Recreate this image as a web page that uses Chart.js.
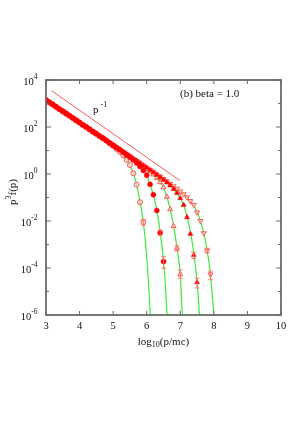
<!DOCTYPE html>
<html>
<head>
<meta charset="utf-8">
<script src="https://cdn.jsdelivr.net/npm/chart.js@4.4.1/dist/chart.umd.min.js"></script>
<style>
  html, body { margin: 0; padding: 0; background: #fff; }
  #wrap { width: 300px; height: 428px; position: relative; }
</style>
</head>
<body>
<div id="wrap"><canvas id="myChart"></canvas></div>
<script>
// x grid: log10(p/mc)
const logP = [3.0, 3.1, 3.2, 3.3, 3.4, 3.5, 3.6, 3.7, 3.8, 3.9,
              4.0, 4.1, 4.2, 4.3, 4.4, 4.5, 4.6, 4.7, 4.8, 4.9,
              5.0, 5.1, 5.2, 5.3, 5.4, 5.5, 5.6, 5.7, 5.8, 5.9,
              6.0, 6.1, 6.2, 6.3, 6.4, 6.5, 6.6, 6.7, 6.8, 6.9,
              7.0, 7.1, 7.2, 7.3, 7.4, 7.5, 7.6, 7.7, 7.8, 7.9];

// log10 of p^3 f(p), shared power-law part (3.0 .. 4.8)
const lowLog = [3.15, 3.05, 2.96, 2.86, 2.76, 2.67, 2.57, 2.48, 2.38, 2.28,
                2.19, 2.09, 2.00, 1.90, 1.80, 1.71, 1.61, 1.52, 1.42];

// tails of the five runs (from 4.9 on)
const openCircLog = lowLog.concat([1.30, 1.19, 1.07, 0.94, 0.79, 0.60, 0.38, 0.03, -0.46, -1.20, -2.05]);
const fillCircLog = lowLog.concat([1.32, 1.22, 1.12, 1.03, 0.93, 0.82, 0.71, 0.60, 0.47, 0.32,
                                   0.15, -0.05, -0.44, -0.88, -1.55, -2.50, -3.72]);
const openUpLog = lowLog.concat([1.32, 1.23, 1.13, 1.04, 0.94, 0.84, 0.74, 0.64, 0.54, 0.45,
                                 0.34, 0.23, 0.11, -0.02, -0.17, -0.35, -0.57, -0.97, -1.50, -2.22,
                                 -3.16, -4.27]);
const fillUpLog = lowLog.concat([1.32, 1.23, 1.13, 1.04, 0.94, 0.84, 0.75, 0.65, 0.56, 0.46,
                                 0.36, 0.27, 0.17, 0.07, -0.03, -0.14, -0.25, -0.36, -0.49, -0.64,
                                 -0.81, -1.03, -1.32, -1.84, -2.55, -3.45, -4.61]);
const openDownLog = lowLog.concat([1.32, 1.23, 1.13, 1.04, 0.94, 0.84, 0.75, 0.65, 0.56, 0.46,
                                   0.36, 0.27, 0.17, 0.08, -0.02, -0.12, -0.21, -0.31, -0.415, -0.52,
                                   -0.62, -0.74, -0.86, -0.99, -1.15, -1.31, -1.63, -2.00, -2.52, -3.26,
                                   -4.27]);

// green fit curves (log10 p, log10 y)
const fitAx = [3.0, 4.0, 4.8, 5.0, 5.2, 5.4, 5.5, 5.6, 5.7, 5.8, 5.9, 6.0, 6.05, 6.1, 6.15];
const fitAy = [3.18, 2.2, 1.43, 1.19, 0.94, 0.60, 0.37, 0.03, -0.46, -1.18, -2.07, -3.51, -4.54, -5.83, -7.4];
const fitBx = [3.0, 4.0, 5.0, 5.5, 5.8, 6.0, 6.1, 6.2, 6.3, 6.4, 6.5, 6.55, 6.6, 6.65];
const fitBy = [3.18, 2.2, 1.23, 0.71, 0.32, -0.06, -0.44, -0.9, -1.52, -2.45, -3.7, -4.6, -5.8, -7.2];
const fitCx = [3.0, 4.0, 5.0, 5.8, 6.0, 6.2, 6.4, 6.5, 6.6, 6.7, 6.8, 6.9, 7.0, 7.05, 7.1];
const fitCy = [3.18, 2.2, 1.23, 0.45, 0.23, -0.02, -0.35, -0.57, -0.97, -1.5, -2.2, -3.12, -4.3, -5.7, -7.4];
const fitDx = [3.0, 4.0, 5.0, 6.0, 6.4, 6.6, 6.8, 6.9, 7.0, 7.1, 7.2, 7.3, 7.4, 7.5, 7.55, 7.6];
const fitDy = [3.18, 2.2, 1.23, 0.27, -0.14, -0.36, -0.64, -0.81, -1.04, -1.33, -1.8, -2.45, -3.35, -4.6, -5.5, -6.7];
const fitEx = [3.0, 4.0, 5.0, 6.0, 6.6, 6.8, 7.0, 7.2, 7.3, 7.4, 7.5, 7.6, 7.7, 7.8, 7.9, 7.95, 8.0, 8.05];
const fitEy = [3.18, 2.2, 1.23, 0.27, -0.31, -0.52, -0.74, -0.99, -1.15, -1.33, -1.62, -2.0, -2.52, -3.25, -4.3, -5.1, -6.0, -7.1];

// p^-1 guide line
const guideX = [3.17, 6.99];
const guideY = [3.54, -0.28];

// error bars: [log10 p, low, high] in log10 y
const errBars = [[5.9, -2.18, -1.93], [6.4, -2.62, -2.38], [6.5, -4.01, -3.52],
                 [6.9, -3.28, -3.05], [7.0, -4.43, -4.08], [7.4, -3.6, -3.33],
                 [7.5, -4.85, -4.43], [7.8, -3.36, -3.16], [7.9, -4.5, -4.13]];
const faintBars = [[7.0, -6.2, -4.43]];

const xTicks = [3, 4, 5, 6, 7, 8, 9, 10];
const yExp = [4, 3, 2, 1, 0, -1, -2, -3, -4, -5, -6];

const pts = (xs, ls) => ls.map((l, i) => ({ x: xs[i], y: Math.pow(10, l) }));

const SERIF = '"Liberation Serif", "DejaVu Serif", serif';
const openFill = 'rgba(255,210,210,0.6)';
const openLine = 'rgb(255,85,85)';
const green = 'rgb(60,235,60)';

const marker = (label, data, style, filled, rot, r, order) => ({
    label: label,
    data: data,
    showLine: false,
    pointStyle: style,
    rotation: rot,
    pointRadius: r,
    pointBackgroundColor: filled ? 'rgb(255,0,0)' : openFill,
    pointBorderColor: filled ? 'rgb(255,0,0)' : openLine,
    pointBorderWidth: filled ? 0.5 : 1,
    order: order
});

const fitLine = (data) => ({
    data: data,
    showLine: true,
    pointRadius: 0,
    borderColor: green,
    borderWidth: 1.2,
    cubicInterpolationMode: 'monotone',
    order: 5
});

function drawSupText(ctx, parts, x, y, align) {
    // parts: [text, size, dy]
    let w = 0;
    parts.forEach(p => { ctx.font = p[1] + 'px ' + SERIF; w += ctx.measureText(p[0]).width; });
    let cx = align === 'center' ? x - w / 2 : (align === 'right' ? x - w : x);
    ctx.textAlign = 'left';
    parts.forEach(p => {
        ctx.font = p[1] + 'px ' + SERIF;
        ctx.fillText(p[0], cx, y + p[2]);
        cx += ctx.measureText(p[0]).width;
    });
}

const decor = {
    id: 'decor',
    afterDatasetsDraw(chart) {
        const { ctx, chartArea: a, scales: { x, y } } = chart;
        ctx.save();
        ctx.beginPath();
        ctx.rect(a.left, a.top, a.right - a.left, a.bottom - a.top);
        ctx.clip();
        ctx.strokeStyle = 'rgba(255,110,110,0.9)';
        ctx.lineWidth = 1;
        errBars.forEach(([p, lo, hi]) => {
            const px = x.getPixelForValue(p);
            const y1 = y.getPixelForValue(Math.pow(10, lo));
            const y2 = y.getPixelForValue(Math.pow(10, hi));
            ctx.beginPath();
            ctx.moveTo(px, y1); ctx.lineTo(px, y2);
            ctx.moveTo(px - 2.5, y1); ctx.lineTo(px + 2.5, y1);
            ctx.moveTo(px - 2.5, y2); ctx.lineTo(px + 2.5, y2);
            ctx.stroke();
        });
        ctx.strokeStyle = 'rgba(255,150,150,0.6)';
        ctx.setLineDash([1.5, 1.5]);
        faintBars.forEach(([p, lo, hi]) => {
            const px = x.getPixelForValue(p);
            ctx.beginPath();
            ctx.moveTo(px, y.getPixelForValue(Math.pow(10, lo)));
            ctx.lineTo(px, y.getPixelForValue(Math.pow(10, hi)));
            ctx.stroke();
        });
        ctx.restore();
    },
    afterDraw(chart) {
        const { ctx, chartArea: a, scales: { x, y } } = chart;
        ctx.save();
        // frame + inward ticks
        ctx.strokeStyle = '#6a6a6a';
        ctx.lineWidth = 1.8;
        ctx.strokeRect(a.left, a.top, a.right - a.left, a.bottom - a.top);
        ctx.lineWidth = 1;
        ctx.beginPath();
        xTicks.forEach(v => {
            const px = x.getPixelForValue(v);
            ctx.moveTo(px, a.bottom); ctx.lineTo(px, a.bottom - 4);
            ctx.moveTo(px, a.top); ctx.lineTo(px, a.top + 4);
        });
        yExp.forEach(e => {
            const py = y.getPixelForValue(Math.pow(10, e));
            const len = e % 2 === 0 ? 5 : 3;
            ctx.moveTo(a.left, py); ctx.lineTo(a.left + len, py);
            ctx.moveTo(a.right, py); ctx.lineTo(a.right - len, py);
        });
        ctx.stroke();

        // tick labels
        ctx.fillStyle = '#111';
        ctx.textBaseline = 'middle';
        ctx.font = '10.5px ' + SERIF;
        ctx.textAlign = 'center';
        xTicks.forEach(v => ctx.fillText(String(v), x.getPixelForValue(v), a.bottom + 11));
        yExp.filter(e => e % 2 === 0).forEach(e => {
            const py = y.getPixelForValue(Math.pow(10, e));
            drawSupText(ctx, [['10', 10.5, 2], [String(e), 7.5, -3]], a.left - 8.5, py, 'right');
        });

        // axis titles
        drawSupText(ctx, [['log', 11, 0], ['10', 8, 3], ['(p/mc)', 11, 0]],
                    (a.left + a.right) / 2, a.bottom + 27, 'center');
        ctx.save();
        ctx.translate(13, 192);
        ctx.rotate(-Math.PI / 2);
        drawSupText(ctx, [['p', 11, 0], ['3', 8, -4], ['f(p)', 11, 0]], 0, 0, 'center');
        ctx.restore();

        // annotations
        drawSupText(ctx, [['(b) beta = 1.0', 11, 0]], 180, 94, 'left');
        drawSupText(ctx, [['p', 11, 0], [' -1', 8, -5]], 93, 110, 'left');
        ctx.restore();
    }
};

const ctx = document.getElementById('myChart');
const myChart = new Chart(ctx, {
    type: 'scatter',
    data: {
        datasets: [
            marker('filled circles', pts(logP, fillCircLog), 'circle', true, 0, 2.5, 0),
            marker('filled triangles', pts(logP, fillUpLog), 'triangle', true, 0, 2.9, 1),
            marker('open circles', pts(logP, openCircLog), 'circle', false, 0, 2.5, 2),
            marker('open triangles up', pts(logP, openUpLog), 'triangle', false, 0, 2.9, 2),
            marker('open triangles down', pts(logP, openDownLog), 'triangle', false, 180, 2.9, 2),
            {
                data: pts(guideX, guideY),
                showLine: true,
                pointRadius: 0,
                borderColor: 'rgb(255,90,90)',
                borderWidth: 1,
                order: 4
            },
            fitLine(pts(fitAx, fitAy)),
            fitLine(pts(fitBx, fitBy)),
            fitLine(pts(fitCx, fitCy)),
            fitLine(pts(fitDx, fitDy)),
            fitLine(pts(fitEx, fitEy))
        ]
    },
    options: {
        responsive: true,
        maintainAspectRatio: false,
        animation: false,
        devicePixelRatio: 1,
        layout: { padding: { left: 46, right: 19, top: 80, bottom: 113 } },
        plugins: { legend: { display: false }, tooltip: { enabled: false } },
        scales: {
            x: { type: 'linear', display: false, min: 3, max: 10 },
            y: { type: 'logarithmic', display: false, min: 1e-6, max: 1e4 }
        }
    },
    plugins: [decor]
});
</script>
</body>
</html>
